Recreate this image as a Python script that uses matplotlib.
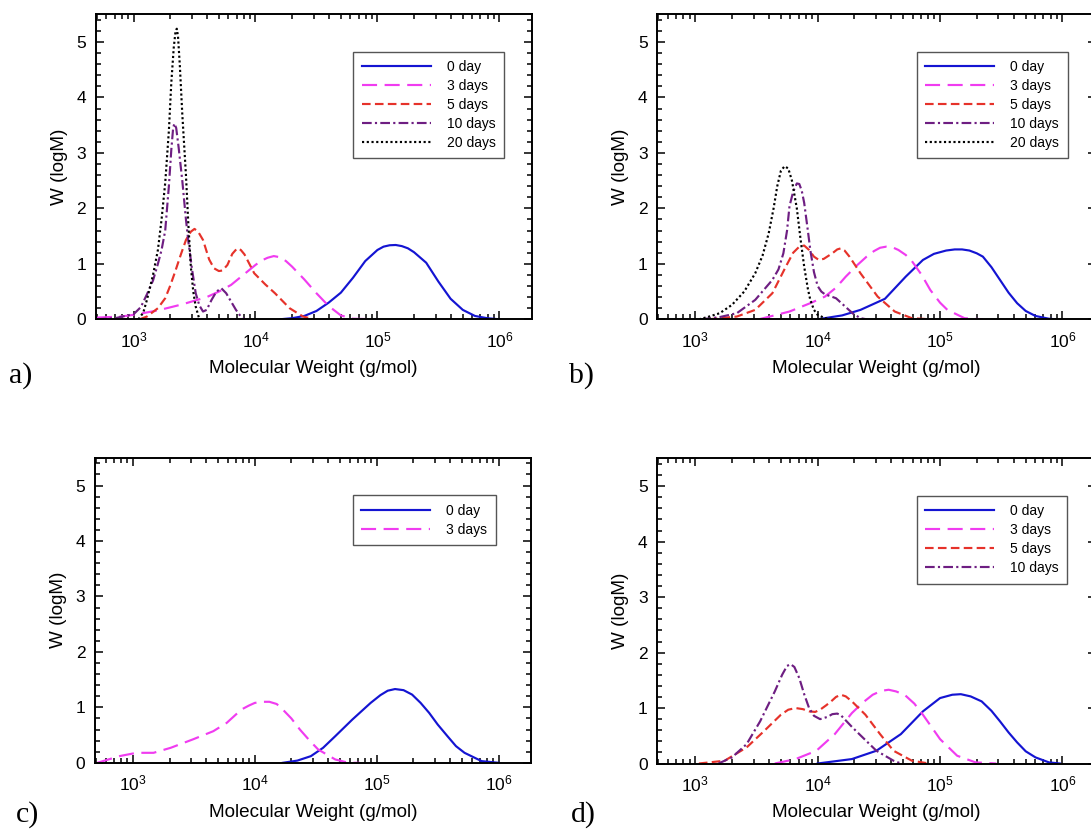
import numpy as np
import matplotlib
matplotlib.use("Agg")
import matplotlib.pyplot as plt
from matplotlib.ticker import LogLocator, FixedLocator, MultipleLocator, NullFormatter

plt.rcParams['font.family'] = ['Liberation Sans', 'DejaVu Sans']
plt.rcParams['mathtext.fontset'] = 'custom'
plt.rcParams['mathtext.rm'] = 'Liberation Sans'

# ---------------- data (log10 M, W) ----------------
# panel a
a_day0_logM = [4.2, 4.3, 4.4, 4.5, 4.6, 4.7, 4.8, 4.9, 5.0, 5.05, 5.1, 5.15, 5.2, 5.25, 5.3, 5.4, 5.5, 5.6, 5.7, 5.8, 5.9, 6.0]
a_day0_W    = [0.0, 0.02, 0.06, 0.15, 0.3, 0.48, 0.75, 1.05, 1.25, 1.31, 1.335, 1.34, 1.32, 1.28, 1.21, 1.02, 0.68, 0.37, 0.17, 0.06, 0.02, 0.0]
a_day3_logM = [2.7, 2.9, 3.0, 3.2, 3.4, 3.6, 3.7, 3.8, 3.9, 4.0, 4.05, 4.1, 4.15, 4.2, 4.25, 4.3, 4.4, 4.5, 4.6, 4.7, 4.8, 5.0]
a_day3_W    = [0.03, 0.05, 0.08, 0.16, 0.27, 0.4, 0.5, 0.62, 0.8, 0.98, 1.06, 1.11, 1.14, 1.12, 1.05, 0.95, 0.72, 0.47, 0.24, 0.07, 0.01, 0.0]
a_day5_logM = [3.05, 3.11, 3.2, 3.26, 3.3, 3.34, 3.39, 3.43, 3.47, 3.5, 3.53, 3.57, 3.62, 3.66, 3.7, 3.73, 3.77, 3.81, 3.85, 3.88, 3.91, 3.99, 4.08, 4.16, 4.28, 4.39, 4.48]
a_day5_W    = [0.0, 0.05, 0.2, 0.38, 0.6, 0.85, 1.18, 1.43, 1.58, 1.63, 1.58, 1.43, 1.08, 0.92, 0.87, 0.88, 0.98, 1.18, 1.28, 1.25, 1.17, 0.83, 0.63, 0.47, 0.2, 0.05, 0.0]
a_day10_logM = [2.7, 2.85, 2.95, 3.0, 3.06, 3.11, 3.16, 3.2, 3.23, 3.26, 3.29, 3.31, 3.325, 3.335, 3.35, 3.37, 3.4, 3.43, 3.45, 3.48, 3.51, 3.54, 3.57, 3.6, 3.64, 3.68, 3.72, 3.76, 3.8, 3.84, 3.88, 3.91]
a_day10_W    = [0.0, 0.02, 0.07, 0.09, 0.22, 0.45, 0.7, 1.0, 1.25, 1.6, 2.4, 3.06, 3.45, 3.53, 3.45, 3.1, 2.5, 1.8, 1.4, 0.9, 0.47, 0.25, 0.14, 0.17, 0.35, 0.5, 0.56, 0.47, 0.32, 0.17, 0.05, 0.0]
a_day20_logM = [3.04, 3.08, 3.11, 3.16, 3.2, 3.23, 3.26, 3.29, 3.31, 3.33, 3.345, 3.355, 3.365, 3.38, 3.4, 3.43, 3.45, 3.47, 3.49, 3.51, 3.54]
a_day20_W    = [0.0, 0.12, 0.35, 0.8, 1.25, 1.8, 2.46, 3.4, 4.27, 4.9, 5.2, 5.24, 5.1, 4.57, 3.7, 2.6, 1.7, 0.95, 0.5, 0.23, 0.0]

# panel b
b_day0_logM = [4.0, 4.2, 4.35, 4.55, 4.72, 4.86, 4.95, 5.05, 5.12, 5.18, 5.24, 5.3, 5.35, 5.42, 5.49, 5.56, 5.63, 5.7, 5.78, 5.89, 5.95]
b_day0_W    = [0.0, 0.07, 0.17, 0.37, 0.77, 1.07, 1.18, 1.24, 1.26, 1.26, 1.24, 1.19, 1.13, 0.94, 0.71, 0.48, 0.29, 0.15, 0.06, 0.01, 0.0]
b_day3_logM = [3.52, 3.77, 3.95, 4.06, 4.15, 4.23, 4.32, 4.4, 4.46, 4.51, 4.56, 4.61, 4.66, 4.72, 4.77, 4.85, 4.92, 5.0, 5.06, 5.2, 5.35]
b_day3_W    = [0.0, 0.14, 0.3, 0.41, 0.57, 0.77, 0.97, 1.13, 1.23, 1.29, 1.31, 1.3, 1.25, 1.16, 1.05, 0.8, 0.53, 0.3, 0.17, 0.02, 0.0]
b_day5_logM = [3.11, 3.34, 3.49, 3.63, 3.74, 3.8, 3.85, 3.89, 3.93, 3.97, 4.01, 4.05, 4.12, 4.16, 4.19, 4.22, 4.26, 4.35, 4.49, 4.63, 4.77, 4.92]
b_day5_W    = [0.0, 0.05, 0.17, 0.47, 0.95, 1.2, 1.31, 1.33, 1.25, 1.13, 1.07, 1.09, 1.19, 1.26, 1.28, 1.24, 1.13, 0.83, 0.41, 0.14, 0.02, 0.0]
b_day10_logM = [3.05, 3.2, 3.34, 3.49, 3.63, 3.68, 3.72, 3.75, 3.77, 3.8, 3.83, 3.85, 3.87, 3.89, 3.92, 3.94, 3.97, 4.0, 4.03, 4.06, 4.1, 4.15, 4.2, 4.25, 4.29, 4.35, 4.4]
b_day10_W    = [0.0, 0.04, 0.11, 0.35, 0.71, 0.9, 1.19, 1.6, 2.04, 2.3, 2.45, 2.44, 2.32, 2.1, 1.6, 1.25, 0.85, 0.6, 0.5, 0.45, 0.42, 0.38, 0.28, 0.18, 0.1, 0.02, 0.0]
b_day20_logM = [3.03, 3.1, 3.2, 3.3, 3.4, 3.49, 3.55, 3.6, 3.64, 3.67, 3.7, 3.73, 3.76, 3.79, 3.83, 3.86, 3.89, 3.92, 3.94, 3.97, 4.0, 4.06, 4.15]
b_day20_W    = [0.0, 0.04, 0.11, 0.26, 0.5, 0.83, 1.15, 1.55, 2.0, 2.4, 2.68, 2.76, 2.72, 2.5, 2.0, 1.45, 0.95, 0.55, 0.35, 0.17, 0.08, 0.02, 0.0]

# panel c
c_day0_logM = [4.23, 4.35, 4.46, 4.56, 4.66, 4.8, 4.95, 5.03, 5.09, 5.15, 5.22, 5.29, 5.36, 5.43, 5.5, 5.58, 5.65, 5.72, 5.86, 6.0]
c_day0_W    = [0.0, 0.04, 0.12, 0.27, 0.48, 0.78, 1.08, 1.22, 1.3, 1.33, 1.31, 1.23, 1.08, 0.9, 0.69, 0.48, 0.3, 0.18, 0.03, 0.0]
c_day3_logM = [2.71, 2.89, 3.03, 3.17, 3.31, 3.49, 3.66, 3.77, 3.89, 3.95, 4.0, 4.06, 4.12, 4.18, 4.23, 4.3, 4.37, 4.45, 4.52, 4.66, 4.77, 4.86]
c_day3_W    = [0.0, 0.12, 0.18, 0.18, 0.27, 0.42, 0.57, 0.72, 0.96, 1.03, 1.08, 1.1, 1.1, 1.06, 0.96, 0.8, 0.6, 0.4, 0.24, 0.06, 0.0, 0.0]

# panel d
d_day0_logM = [4.0, 4.28, 4.48, 4.68, 4.86, 5.0, 5.1, 5.17, 5.25, 5.34, 5.42, 5.49, 5.56, 5.63, 5.7, 5.78, 5.89, 5.98]
d_day0_W    = [0.0, 0.08, 0.23, 0.53, 0.94, 1.18, 1.24, 1.25, 1.21, 1.12, 0.95, 0.76, 0.56, 0.38, 0.22, 0.11, 0.02, 0.0]
d_day3_logM = [3.65, 3.82, 3.99, 4.14, 4.28, 4.37, 4.45, 4.52, 4.58, 4.64, 4.71, 4.79, 4.86, 4.93, 5.0, 5.14, 5.29, 5.46]
d_day3_W    = [0.0, 0.08, 0.23, 0.53, 0.91, 1.1, 1.24, 1.31, 1.33, 1.3, 1.24, 1.08, 0.88, 0.66, 0.44, 0.14, 0.02, 0.0]
d_day5_logM = [3.03, 3.24, 3.42, 3.56, 3.7, 3.76, 3.82, 3.88, 3.93, 3.98, 4.02, 4.07, 4.11, 4.15, 4.19, 4.23, 4.28, 4.39, 4.51, 4.62, 4.77, 4.91]
d_day5_W    = [0.0, 0.05, 0.29, 0.58, 0.88, 0.97, 1.0, 0.98, 0.94, 0.93, 0.97, 1.05, 1.12, 1.2, 1.24, 1.21, 1.12, 0.88, 0.53, 0.23, 0.05, 0.0]
d_day10_logM = [3.19, 3.3, 3.42, 3.53, 3.65, 3.71, 3.75, 3.78, 3.81, 3.85, 3.89, 3.93, 3.97, 4.02, 4.08, 4.12, 4.16, 4.19, 4.22, 4.28, 4.34, 4.48, 4.62, 4.68]
d_day10_W    = [0.0, 0.11, 0.35, 0.76, 1.3, 1.6, 1.76, 1.79, 1.74, 1.54, 1.25, 1.0, 0.86, 0.8, 0.84, 0.89, 0.9, 0.87, 0.8, 0.66, 0.53, 0.23, 0.05, 0.0]

labels = ['0 day', '3 days', '5 days', '10 days', '20 days']
panel_letters = ['a)', 'b)', 'c)', 'd)']
xtick_values = [1e3, 1e4, 1e5, 1e6]
xtick_labels = [r'$\mathregular{10^{3}}$', r'$\mathregular{10^{4}}$', r'$\mathregular{10^{5}}$', r'$\mathregular{10^{6}}$']
ytick_values = [0, 1, 2, 3, 4, 5]

panels = [
    [(a_day0_logM, a_day0_W), (a_day3_logM, a_day3_W), (a_day5_logM, a_day5_W), (a_day10_logM, a_day10_W), (a_day20_logM, a_day20_W)],
    [(b_day0_logM, b_day0_W), (b_day3_logM, b_day3_W), (b_day5_logM, b_day5_W), (b_day10_logM, b_day10_W), (b_day20_logM, b_day20_W)],
    [(c_day0_logM, c_day0_W), (c_day3_logM, c_day3_W)],
    [(d_day0_logM, d_day0_W), (d_day3_logM, d_day3_W), (d_day5_logM, d_day5_W), (d_day10_logM, d_day10_W)],
]

# ---------------- styles ----------------
colors = ['#1414d2', '#f03cf0', '#e6322a', '#6e1e82', '#000000']
dashes = [None, (7, 3.5), (4, 2), (4.5, 1.5, 1, 1.5), (1, 1.2)]
lw = 1.55

fig = plt.figure(figsize=(10.91, 8.30), dpi=100)
positions = [
    [95.7 / 1091, 1 - 319.3 / 830, 436 / 1091, 305 / 830],
    [657.3 / 1091, 1 - 319.3 / 830, 438.8 / 1091, 305 / 830],
    [95.0 / 1091, 1 - 762.8 / 830, 436 / 1091, 305 / 830],
    [657.3 / 1091, 1 - 763.5 / 830, 438.8 / 1091, 305 / 830],
]
xmax_log = [6.265, 6.275, 6.265, 6.275]
letter_pos = [(9, 376), (569, 376), (16, 815), (571, 815)]

for i, (pos, series) in enumerate(zip(positions, panels)):
    ax = fig.add_axes(pos)
    for j, (lm, w) in enumerate(series):
        line, = ax.plot(np.power(10.0, lm), w, color=colors[j], lw=lw, label=labels[j],
                        solid_joinstyle='round', dash_joinstyle='round')
        if dashes[j] is not None:
            line.set_dashes(dashes[j])
    ax.set_xscale('log')
    ax.set_xlim(10 ** 2.69, 10 ** xmax_log[i])
    ax.set_ylim(0, 5.5)
    ax.xaxis.set_major_locator(FixedLocator(xtick_values))
    ax.set_xticklabels(xtick_labels)
    ax.xaxis.set_minor_locator(LogLocator(base=10, subs=np.arange(2, 10), numticks=20))
    ax.xaxis.set_minor_formatter(NullFormatter())
    ax.set_yticks(ytick_values)
    ax.yaxis.set_minor_locator(MultipleLocator(0.2))
    ax.tick_params(which='both', direction='in', top=True, right=True, labelsize=12.5, width=1.1)
    ax.tick_params(which='major', length=6)
    ax.tick_params(which='minor', length=3.5)
    ax.tick_params(axis='x', which='major', pad=8)
    ax.tick_params(axis='y', which='major', pad=7)
    for sp in ax.spines.values():
        sp.set_linewidth(1.4)
    ax.set_xlabel('Molecular Weight (g/mol)', fontsize=13.6, labelpad=7)
    ax.set_ylabel('W (logM)', fontsize=13.6, labelpad=6)
    leg = ax.legend(loc='upper left', bbox_to_anchor=(0.591, 0.877), borderaxespad=0,
                    fontsize=10, handlelength=5.0, handletextpad=1.15, labelspacing=0.36,
                    borderpad=0.6, fancybox=False, framealpha=1, edgecolor='#555555')
    leg.get_frame().set_linewidth(1.0)
    lx, ly = letter_pos[i]
    fig.text(lx / 1091, 1 - ly / 830, panel_letters[i], family=['Liberation Serif', 'DejaVu Serif'],
             fontsize=21.5, ha='left', va='center')

fig.savefig('out.png', dpi=100)
